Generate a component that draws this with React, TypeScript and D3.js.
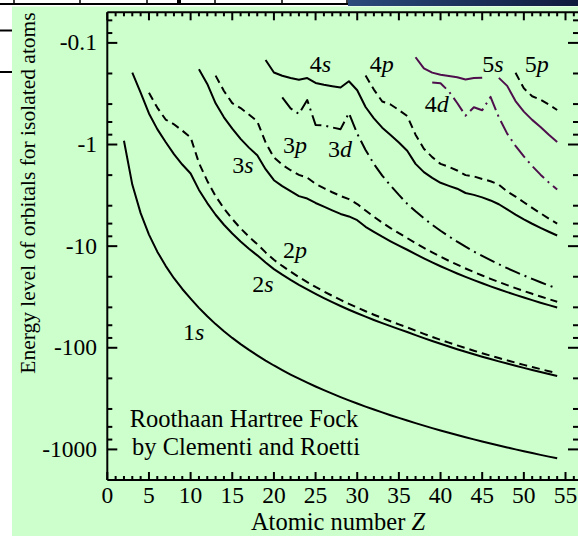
import React from "react";
import * as d3 from "d3";

// Roothaan-Hartree-Fock orbital energies |E| (hartree), indexed by atomic number from the start Z
const start1s = 2;
const e1s = [0.918, 2.478, 4.733, 7.695, 11.326, 15.629, 20.669, 26.383, 32.772, 40.479, 49.032, 58.501, 68.813, 79.97, 92.005, 104.884, 118.61, 133.533, 149.364, 165.89, 183.29, 201.55, 220.67, 240.53, 261.37, 283.05, 305.62, 328.79, 353.31, 378.82, 405.23, 432.51, 460.66, 489.68, 520.17, 551.5, 583.7, 616.9, 651.0, 686.0, 721.9, 758.7, 796.5, 835.2, 874.7, 915.2, 956.7, 999.0, 1042.3, 1086.4, 1131.5, 1177.5, 1224.4];
const start2s = 3;
const e2s = [0.1963, 0.3093, 0.4947, 0.7056, 0.9457, 1.2443, 1.5726, 1.9304, 2.797, 3.768, 4.911, 6.157, 7.511, 9.004, 10.608, 12.322, 14.49, 16.823, 19.08, 21.47, 24.01, 26.69, 29.51, 32.48, 35.58, 38.83, 42.22, 45.74, 49.42, 53.23, 57.19, 61.28, 65.52, 69.9, 75.01, 80.29, 85.76, 91.41, 97.23, 103.24, 109.42, 115.79, 122.33, 129.06, 135.97, 143.05, 150.32, 157.76, 165.39, 173.19, 181.18, 189.34];
const start2p = 5;
const e2p = [0.3099, 0.4333, 0.5676, 0.6319, 0.73, 0.8504, 1.5181, 2.2822, 3.2182, 4.2559, 5.4009, 6.6825, 8.0722, 9.5714, 11.518, 13.629, 15.66, 17.83, 20.14, 22.59, 25.19, 27.92, 30.8, 33.81, 36.97, 40.27, 43.71, 47.28, 51.0, 54.87, 58.87, 63.01, 67.86, 72.89, 78.1, 83.48, 89.05, 94.8, 100.73, 106.83, 113.12, 119.58, 126.23, 133.05, 140.06, 147.24, 154.61, 162.15, 169.88, 177.78];
const start3s = 11;
const e3s = [0.1821, 0.2531, 0.3934, 0.5397, 0.6964, 0.8796, 1.0729, 1.2774, 1.7487, 2.2454, 2.57, 2.88, 3.22, 3.4, 3.76, 4.09, 4.45, 4.82, 5.1, 5.55, 6.45, 7.23, 8.07, 8.95, 9.88, 10.85, 11.99, 13.19, 14.45, 15.76, 17.14, 18.57, 20.05, 21.59, 23.2, 24.85, 26.57, 28.34, 30.17, 32.06, 34.0, 36.0, 38.06, 40.18];
const start3p = 13;
const e3p = [0.21, 0.2973, 0.3917, 0.4374, 0.5064, 0.591, 0.9548, 1.341, 1.58, 1.79, 1.99, 2.12, 2.44, 2.69, 2.95, 3.21, 3.45, 3.85, 4.46, 5.14, 5.87, 6.64, 7.46, 8.33, 9.34, 10.4, 11.52, 12.7, 13.94, 15.23, 16.58, 17.99, 19.45, 20.98, 22.56, 24.19, 25.89, 27.64, 29.45, 31.32, 33.24, 35.22];
const start3d = 21;
const e3d = [0.344, 0.441, 0.5, 0.365, 0.641, 0.648, 0.679, 0.706, 0.49, 0.783, 1.131, 1.553, 2.023, 2.531, 3.132, 3.825, 4.54, 5.32, 6.16, 7.06, 8.02, 9.04, 10.13, 11.28, 12.48, 13.75, 15.08, 16.48, 17.93, 19.44, 21.02, 22.66, 24.36, 26.12];
const start4s = 19;
const e4s = [0.1475, 0.1955, 0.2104, 0.2211, 0.2307, 0.2217, 0.2479, 0.2583, 0.2664, 0.2752, 0.2386, 0.2925, 0.4276, 0.5529, 0.6824, 0.8056, 0.9569, 1.1529, 1.55, 1.87, 2.13, 2.38, 2.55, 2.72, 3.0, 3.13, 3.31, 3.55, 3.87, 4.35, 4.9, 5.45, 6.02, 6.61, 7.22, 7.856];
const start4p = 31;
const e4p = [0.2095, 0.2882, 0.3774, 0.4035, 0.4573, 0.5246, 0.8, 1.1, 1.33, 1.55, 1.66, 1.8, 2.0, 2.06, 2.18, 2.3, 2.48, 2.9, 3.25, 3.7, 4.2, 4.75, 5.35, 6.008];
const start4d = 39;
const e4d = [0.245, 0.25, 0.3, 0.39, 0.52, 0.43, 0.46, 0.34, 0.54, 0.782, 1.03, 1.31, 1.63, 1.98, 2.36, 2.778];
const start5s = 37;
const e5s: (number | null)[] = [0.1385, 0.1785, 0.196, 0.206, 0.212, 0.218, 0.229, 0.222, 0.22, null, 0.2208, 0.2647, 0.3732, 0.4744, 0.5722, 0.6709, 0.8011, 0.9441];
const start5p = 49;
const e5p = [0.197, 0.28, 0.335, 0.362, 0.405, 0.4573];

// curve labels: name, atomic number and |E| where the label sits
const labelNames = ["1s", "2s", "2p", "3s", "3p", "3d", "4s", "4p", "4d", "5s", "5p"];
const labelZ = [9.1, 17.4, 21.1, 15.0, 21.1, 26.5, 24.3, 31.5, 38.1, 45.0, 50.1];
const labelE = [84.3, 28.4, 13.2, 1.92, 1.22, 1.33, 0.194, 0.194, 0.481, 0.194, 0.194];

const xMajorTicks = [0, 5, 10, 15, 20, 25, 30, 35, 40, 45, 50, 55];
const yMajorTicks = [0.1, 1, 10, 100, 1000];
const yTickLabels = ["-0.1", "-1", "-10", "-100", "-1000"];

const FONT = "'Liberation Serif', 'Times New Roman', Times, serif";
const PURPLE = "#4f0f4d";

export default function App() {
  const W = 578, H = 536;
  const left = 107.3, top = 12.3, bottom = 480, right = 578;
  const x = d3.scaleLinear().domain([0, 56.5]).range([left, right]);
  const y = d3.scaleLog().domain([0.05, 2000]).range([top, bottom]);

  const solid = "none";
  const dashed = "8,5";
  const dashdot = "16,5,2,5";
  const series = [
    { z0: start1s, e: e1s, dash: solid, color: "#000" },
    { z0: start2s, e: e2s, dash: solid, color: "#000" },
    { z0: start2p, e: e2p, dash: dashed, color: "#000" },
    { z0: start3s, e: e3s, dash: solid, color: "#000" },
    { z0: start3p, e: e3p, dash: dashed, color: "#000" },
    { z0: start3d, e: e3d, dash: dashdot, color: "#000" },
    { z0: start4s, e: e4s, dash: solid, color: "#000" },
    { z0: start4p, e: e4p, dash: dashed, color: "#000" },
    { z0: start4d, e: e4d as (number | null)[], dash: dashdot, color: PURPLE },
    { z0: start5s, e: e5s, dash: solid, color: PURPLE },
    { z0: start5p, e: e5p, dash: dashed, color: "#000" },
  ];

  const line = d3
    .line<[number, number | null]>()
    .defined((d) => d[1] != null)
    .x((d) => x(d[0]))
    .y((d) => y(d[1] as number));

  const xMinor = d3.range(0, 57, 1).filter((v) => v % 5 !== 0);
  const yMinor: number[] = [];
  [0.01, 0.1, 1, 10, 100, 1000].forEach((dec) =>
    [2, 4, 6, 8].forEach((m) => {
      const v = dec * m;
      if (v > 0.05 && v < 2000) yMinor.push(v);
    })
  );

  const sw = 2;

  return (
    <svg
      width={W}
      height={H}
      style={{ position: "absolute", left: 0, top: 0, background: "#fff" }}
      fontFamily={FONT}
    >
      <defs>
        <linearGradient id="bar" x1="0" x2="1" y1="0" y2="0">
          <stop offset="0" stopColor="#2b4c7c" />
          <stop offset="1" stopColor="#0e1a3c" />
        </linearGradient>
        <clipPath id="plot">
          <rect x={left} y={top} width={right - left} height={bottom - top} />
        </clipPath>
      </defs>
      <rect x={0} y={0} width={W} height={H} fill="#fff" />
      {/* page fragments above the figure */}
      <rect x={348} y={0} width={W - 348} height={6} fill="url(#bar)" />
      <line x1={0} x2={348} y1={4} y2={4} stroke="#000" strokeWidth={2} />
      {[14, 80, 147, 215, 282, 347].map((v) => (
        <line key={v} x1={v} x2={v} y1={0} y2={5} stroke="#000" strokeWidth={1.5} />
      ))}
      <rect x={177} y={0} width={4} height={3} fill="#000" />
      <line x1={0} x2={12} y1={30.5} y2={30.5} stroke="#000" strokeWidth={2} />
      <line x1={0} x2={12} y1={72} y2={72} stroke="#000" strokeWidth={2} />

      {/* green panel */}
      <rect x={12} y={6.5} width={W - 12} height={H - 6.5} fill="#ccffcc" />

      {/* curves */}
      <g clipPath="url(#plot)" fill="none" strokeWidth={sw} strokeLinejoin="round">
        {series.map((s, i) => (
          <path
            key={i}
            d={line(s.e.map((v, k) => [s.z0 + k, v] as [number, number | null])) || ""}
            stroke={s.color}
            strokeDasharray={s.dash}
          />
        ))}
      </g>

      {/* axes frame */}
      <g stroke="#000" strokeWidth={2} fill="none">
        <line x1={left} x2={left} y1={top} y2={bottom} />
        <line x1={left} x2={right + 2} y1={bottom} y2={bottom} />
        <line x1={left} x2={right + 2} y1={top} y2={top} />
        {xMajorTicks.map((t) => (
          <g key={"xm" + t}>
            <line x1={x(t)} x2={x(t)} y1={bottom} y2={bottom - 8} />
            <line x1={x(t)} x2={x(t)} y1={top} y2={top + 8} />
          </g>
        ))}
        {xMinor.map((t) => (
          <g key={"xn" + t}>
            <line x1={x(t)} x2={x(t)} y1={bottom} y2={bottom - 4} />
            <line x1={x(t)} x2={x(t)} y1={top} y2={top + 4} />
          </g>
        ))}
        {yMajorTicks.map((t) => (
          <g key={"ym" + t}>
            <line x1={left} x2={left + 10} y1={y(t)} y2={y(t)} />
            <line x1={right} x2={right - 10} y1={y(t)} y2={y(t)} />
          </g>
        ))}
        {yMinor.map((t) => (
          <g key={"yn" + t}>
            <line x1={left} x2={left + 5} y1={y(t)} y2={y(t)} />
            <line x1={right} x2={right - 5} y1={y(t)} y2={y(t)} />
          </g>
        ))}
      </g>

      {/* tick labels */}
      <g fontSize={23.5} fill="#000">
        {xMajorTicks.map((t) => (
          <text key={"xl" + t} x={x(t)} y={503} textAnchor="middle">
            {t}
          </text>
        ))}
        {yMajorTicks.map((t, i) => (
          <text key={"yl" + t} x={97} y={y(t) + 7.5} textAnchor="end">
            {yTickLabels[i]}
          </text>
        ))}
      </g>

      {/* axis titles */}
      <text x={338} y={530} fontSize={24.5} textAnchor="middle">
        Atomic number <tspan fontStyle="italic">Z</tspan>
      </text>
      <text
        transform="translate(35,193) rotate(-90)"
        fontSize={21.5}
        textAnchor="middle"
      >
        Energy level of orbitals for isolated atoms
      </text>

      {/* curve labels */}
      <g fontSize={24}>
        {labelNames.map((n, i) => (
          <text key={n} x={x(labelZ[i])} y={y(labelE[i])}>
            {n[0]}
            <tspan fontStyle="italic">{n[1]}</tspan>
          </text>
        ))}
      </g>

      {/* source note */}
      <g fontSize={24.5} textAnchor="middle">
        <text x={244} y={427}>Roothaan Hartree Fock</text>
        <text x={246} y={455}>by Clementi and Roetti</text>
      </g>
    </svg>
  );
}
